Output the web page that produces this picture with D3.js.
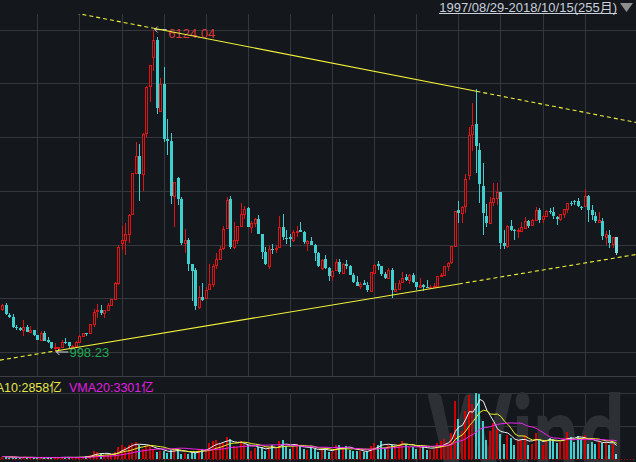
<!DOCTYPE html>
<html><head><meta charset="utf-8">
<script src="https://cdn.jsdelivr.net/npm/d3@7/dist/d3.min.js"></script>
<style>
html,body{margin:0;padding:0;background:#14171c;overflow:hidden}
svg{display:block}
</style></head><body>
<svg id="c" width="636" height="462"></svg>
<script>
// ---- DATA: SSE Composite, monthly (visible window) ----
const months = [
 "2004-03","2004-04","2004-05","2004-06","2004-07","2004-08","2004-09","2004-10","2004-11","2004-12",
 "2005-01","2005-02","2005-03","2005-04","2005-05","2005-06","2005-07","2005-08","2005-09","2005-10","2005-11","2005-12",
 "2006-01","2006-02","2006-03","2006-04","2006-05","2006-06","2006-07","2006-08","2006-09","2006-10","2006-11","2006-12",
 "2007-01","2007-02","2007-03","2007-04","2007-05","2007-06","2007-07","2007-08","2007-09","2007-10","2007-11","2007-12",
 "2008-01","2008-02","2008-03","2008-04","2008-05","2008-06","2008-07","2008-08","2008-09","2008-10","2008-11","2008-12",
 "2009-01","2009-02","2009-03","2009-04","2009-05","2009-06","2009-07","2009-08","2009-09","2009-10","2009-11","2009-12",
 "2010-01","2010-02","2010-03","2010-04","2010-05","2010-06","2010-07","2010-08","2010-09","2010-10","2010-11","2010-12",
 "2011-01","2011-02","2011-03","2011-04","2011-05","2011-06","2011-07","2011-08","2011-09","2011-10","2011-11","2011-12",
 "2012-01","2012-02","2012-03","2012-04","2012-05","2012-06","2012-07","2012-08","2012-09","2012-10","2012-11","2012-12",
 "2013-01","2013-02","2013-03","2013-04","2013-05","2013-06","2013-07","2013-08","2013-09","2013-10","2013-11","2013-12",
 "2014-01","2014-02","2014-03","2014-04","2014-05","2014-06","2014-07","2014-08","2014-09","2014-10","2014-11","2014-12",
 "2015-01","2015-02","2015-03","2015-04","2015-05","2015-06","2015-07","2015-08","2015-09","2015-10","2015-11","2015-12",
 "2016-01","2016-02","2016-03","2016-04","2016-05","2016-06","2016-07","2016-08","2016-09","2016-10","2016-11","2016-12",
 "2017-01","2017-02","2017-03","2017-04","2017-05","2017-06","2017-07","2017-08","2017-09","2017-10","2017-11","2017-12",
 "2018-01","2018-02","2018-03","2018-04","2018-05","2018-06","2018-07","2018-08","2018-09","2018-10"
];
const open = [
 1676,1745,1590,1555,1395,1387,1340,1398,1322,1340,
 1261,1191,1307,1182,1160,1058,1080,1083,1163,1155,1092,1100,
 1163,1259,1299,1299,1443,1644,1673,1612,1659,1752,1837,2100,
 2728,2786,2881,3196,3846,4110,3820,4474,5223,5690,5958,4830,
 5265,4382,4349,3471,3756,3434,2732,2772,2398,2296,1716,1868,
 1849,1992,2083,2376,2478,2645,2971,3426,2670,2782,3000,3199,
 3289,2986,3055,3114,2866,2590,2373,2640,2641,2660,2989,2818,
 2825,2774,2908,2933,2904,2738,2767,2700,2569,2340,2471,2330,
 2212,2294,2434,2255,2395,2371,2221,2104,2045,2092,2069,1973,
 2261,2391,2367,2236,2174,2298,1975,1994,2110,2186,2139,2215,
 2112,2029,2057,2034,2023,2037,2049,2203,2219,2368,2426,2690,
 3258,3212,3313,3810,4464,4617,4214,3630,3157,3052,3386,3443,
 3536,2730,2688,3000,2939,2916,2928,2973,3083,3009,3103,3250,
 3105,3160,3246,3227,3144,3117,3193,3274,3363,3403,3393,3308,
 3314,3479,3262,3163,3071,3084,2830,2860,2716,2819
];
const high = [
 1760,1783,1620,1600,1425,1400,1503,1432,1405,1355,
 1273,1328,1330,1230,1165,1146,1085,1186,1223,1156,1110,1178,
 1263,1306,1301,1444,1677,1757,1746,1660,1772,1841,2103,2698,
 2994,3049,3197,3841,4335,4312,4472,5219,5558,6124.04,5999,5352,
 5523,4695,4473,3700,3786,3455,2952,2810,2398,2333,2040,2100,
 2038,2402,2404,2579,2689,2994,3454,3478,3068,3000,3361,3314,
 3306,3076,3127,3181,2879,2660,2676,2707,2703,3160,3186,2939,
 2870,2941,3001,3067,2920,2774,2827,2710,2581,2476,2536,2346,
 2302,2478,2478,2412,2453,2386,2250,2200,2112,2137,2109,2276,
 2398,2445,2368,2274,2335,2334,2093,2149,2270,2242,2240,2260,
 2113,2177,2074,2146,2061,2087,2204,2248,2372,2426,2686,3239,
 3406,3324,3835,4573,4958,5178.19,4318,4006,3358,3457,3678,3684,
 3539,2934,3018,3098,2953,2968,3071,3141,3103,3114,3301,3288,
 3175,3261,3283,3295,3158,3194,3277,3374,3391,3418,3450,3316,
 3587,3495,3333,3220,3220,3129,2915,2940,2828,2830
];
const low = [
 1642,1585,1541,1384,1342,1328,1260,1318,1301,1259,
 1189,1187,1175,1134,1043,998.23,1004,1075,1129,1067,1074,1098,
 1156,1241,1259,1292,1403,1541,1593,1541,1651,1744,1827,2069,
 2617,2541,2723,3171,3840,3404,3563,4409,4976,5462,4778,4812,
 4330,4123,3357,2990,3333,2693,2566,2284,1802,1664,1679,1814,
 1844,1990,2038,2325,2476,2626,2949,2639,2640,2713,2991,3111,
 2986,2890,2983,2869,2481,2382,2319,2558,2573,2650,2785,2721,
 2661,2753,2821,2910,2710,2610,2698,2437,2344,2307,2318,2134,
 2132,2286,2242,2242,2323,2223,2100,2040,1999,2058,1959,1949,
 2243,2304,2205,2161,2173,1849,1951,1991,2087,2130,2080,2087,
 1985,2026,1974,2010,1992,2010,2039,2183,2212,2285,2389,2687,
 3050,3050,3205,3734,4198,3848,3373,2850,2983,3040,3323,3327,
 2638,2638,2650,2927,2781,2807,2923,2951,2969,3008,3096,3044,
 3044,3141,3193,3111,3016,3088,3132,3210,3317,3337,3307,3254,
 3305,3062,3091,3041,3041,2782,2691,2653,2644,2536
];
const close = [
 1742,1595,1555,1399,1386,1342,1396,1320,1340,1266,
 1191,1306,1181,1159,1060,1080,1083,1162,1155,1092,1099,1161,
 1258,1299,1298,1440,1641,1672,1612,1658,1752,1837,2099,2675,
 2786,2881,3183,3841,4109,3820,4471,5218,5552,5954,4871,5261,
 4383,4348,3472,3693,3433,2736,2775,2397,2293,1729,1871,1821,
 1991,2082,2373,2477,2633,2959,3412,2667,2779,2996,3195,3277,
 2989,3051,3110,2870,2592,2398,2638,2638,2656,2979,2820,2808,
 2791,2906,2928,2911,2743,2762,2701,2568,2359,2468,2333,2199,
 2292,2428,2262,2396,2373,2225,2103,2047,2086,2069,1980,2269,
 2385,2365,2237,2177,2301,1979,1994,2098,2175,2141,2220,2116,
 2033,2056,2033,2026,2039,2048,2202,2217,2364,2420,2683,3235,
 3210,3310,3748,4441,4612,4277,3664,3206,3053,3383,3445,3539,
 2738,2688,3004,2938,2917,2930,2979,3085,3005,3100,3250,3104,
 3159,3242,3223,3155,3117,3192,3273,3361,3349,3393,3317,3307,
 3481,3259,3169,3082,3095,2847,2876,2725,2821,2568
];
// monthly volume, 亿股
const volume = [
 450,420,250,270,200,200,380,250,280,190,
 180,320,260,280,230,300,250,380,360,240,230,290,
 420,450,500,760,1450,1300,900,650,800,750,1350,2100,
 2500,2100,2600,3000,3100,2600,1900,2400,2300,1800,1300,1500,
 1400,1100,1600,1700,1900,1000,1100,900,1300,1300,1800,1900,
 1800,2900,3300,3400,2700,3000,4000,3600,2300,2200,3200,2700,
 2500,1500,2000,2100,2100,1500,2100,2600,1800,3300,3500,2300,
 1900,2200,2800,2300,1800,1600,2100,1800,1300,1700,2000,1300,
 1300,2500,2500,1900,2300,1600,1500,1500,1400,1200,1400,2400,
 3000,2600,3200,2000,2600,2600,2300,2700,3300,2600,2200,2100,
 1800,2300,2400,1700,1700,1900,2900,3200,3600,3000,4800,10500,
 7200,5000,8800,11600,10000,12000,11800,7000,3500,5000,6500,5500,
 4500,2800,4300,3900,2500,3500,3500,4300,2500,2700,4700,3400,
 2600,3300,3900,3600,3000,3100,3900,4900,4000,3100,4200,3740,
 4300,2700,3100,2800,3300,3000,3100,2600,2780,900
];
// trend-line anchors (month, price)
const upperTrend = [["2007-10", 6143], ["2015-06", 5142]];
const lowerTrend = [["2005-06", 1015], ["2015-01", 2080]];
const maPeriods = [5, 10, 20];
const rangeLabel = "1997/08/29-2018/10/15(255月)";
const unit = "亿";

// ---- DRAW ----
const W = 636, H = 462;
const n = months.length;
const FONT = "'Liberation Sans', Arial, 'Noto Sans CJK SC', sans-serif";
const RED = "#dc1616", CYAN = "#3fcfcf", BG = "#14171c", GRID = "#34373c";

const x = d3.scaleLinear().domain([0, n - 1]).range([2.8, 2.8 + (n - 1) * 3.508]);
const lo = d3.min(low), hi = d3.max(high);
const y = d3.scaleLinear().domain([lo, hi]).range([352, 29.5]);
const vmax = d3.max(volume);
const yv = d3.scaleLinear().domain([0, vmax]).range([459, 393]);

const svg = d3.select("#c");
svg.append("rect").attr("width", W).attr("height", H).attr("fill", BG);
const defs = svg.append("defs");
defs.append("clipPath").attr("id", "cp").append("rect").attr("x", 0).attr("y", 14).attr("width", W).attr("height", 362);
defs.append("clipPath").attr("id", "cv").append("rect").attr("x", 0).attr("y", 377).attr("width", W).attr("height", 85);

// grid
const grid = svg.append("g").attr("stroke", GRID).attr("stroke-width", 1).attr("shape-rendering", "crispEdges");
d3.range(7).map(k => lo + k * (hi - lo) / 6).forEach(v => {
  const gy = Math.round(y(v)) + 0.5;
  grid.append("line").attr("x1", 0).attr("x2", W).attr("y1", gy).attr("y2", gy);
});
months.forEach((m, i) => {
  if (m.endsWith("-01")) {
    const gx = Math.floor(x(i)) + 0.5;
    grid.append("line").attr("x1", gx).attr("x2", gx).attr("y1", 14).attr("y2", 376);
    grid.append("line").attr("x1", gx).attr("x2", gx).attr("y1", 393).attr("y2", 462);
  }
});
[vmax, vmax / 2].forEach(v => {
  const gy = Math.round(yv(v)) + 0.5;
  grid.append("line").attr("x1", 0).attr("x2", W).attr("y1", gy).attr("y2", gy);
});
svg.append("line").attr("x1", 0).attr("x2", W).attr("y1", 376.5).attr("y2", 376.5)
  .attr("stroke", "#3b3e43").attr("shape-rendering", "crispEdges");

// candles
const gc = svg.append("g").attr("clip-path", "url(#cp)").attr("shape-rendering", "crispEdges");
const idx = d3.range(n);
idx.forEach(i => {
  const cx = Math.floor(x(i));
  const up = close[i] >= open[i];
  const last = i === n - 1;
  const col = up ? RED : (last ? "#7fdede" : CYAN);
  const top = Math.round(y(Math.max(open[i], close[i])));
  const bot = Math.round(y(Math.min(open[i], close[i])));
  const yh = Math.round(y(high[i])), yl = Math.round(y(low[i]));
  if (up) {
    if (yh < top) gc.append("line").attr("x1", cx + 0.5).attr("x2", cx + 0.5).attr("y1", yh).attr("y2", top).attr("stroke", col);
    if (yl > bot) gc.append("line").attr("x1", cx + 0.5).attr("x2", cx + 0.5).attr("y1", bot).attr("y2", yl).attr("stroke", col);
    gc.append("rect").attr("x", cx - 0.5).attr("y", top + 0.5).attr("width", 2).attr("height", Math.max(bot - top, 1))
      .attr("fill", BG).attr("stroke", col);
  } else {
    gc.append("line").attr("x1", cx + 0.5).attr("x2", cx + 0.5).attr("y1", yh).attr("y2", yl).attr("stroke", col);
    gc.append("rect").attr("x", cx - 1).attr("y", top).attr("width", 3).attr("height", Math.max(bot - top, 1)).attr("fill", col);
  }
});

// hi / lo labels
const fmt2 = d3.format(".2f");
const iHi = high.indexOf(hi), iLo = low.indexOf(lo);
const lab = svg.append("g");
lab.append("text").attr("x", x(iHi) + 14.5).attr("y", y(hi) + 8.5).attr("fill", "#d83a3a")
  .attr("font-family", FONT).attr("font-size", 13).text(fmt2(hi));
lab.append("path").attr("d", `M${x(iHi)+1},${y(hi)} H${x(iHi)+13} M${x(iHi)+4},${y(hi)-3} L${x(iHi)+1},${y(hi)} L${x(iHi)+4},${y(hi)+3}`)
  .attr("stroke", "#b8b8b8").attr("fill", "none");
lab.append("text").attr("x", x(iLo) + 14).attr("y", y(lo) + 4.5).attr("fill", "#1fae52")
  .attr("font-family", FONT).attr("font-size", 13).text(fmt2(lo));
lab.append("path").attr("d", `M${x(iLo)+1},${y(lo)} H${x(iLo)+13} M${x(iLo)+4},${y(lo)-3} L${x(iLo)+1},${y(lo)} L${x(iLo)+4},${y(lo)+3}`)
  .attr("stroke", "#d8d8d8").attr("fill", "none");

// trend lines
function trend(anchors) {
  const [a, b] = anchors.map(([m, p]) => [x(months.indexOf(m)), y(p)]);
  const k = (b[1] - a[1]) / (b[0] - a[0]);
  const at = X => [X, a[1] + k * (X - a[0])];
  const g = svg.append("g").attr("clip-path", "url(#cp)").attr("stroke", "#f2f23a").attr("fill", "none").attr("stroke-width", 1.1);
  g.append("line").attr("x1", at(0)[0]).attr("y1", at(0)[1]).attr("x2", a[0]).attr("y2", a[1]).attr("stroke-dasharray", "4,3");
  g.append("line").attr("x1", a[0]).attr("y1", a[1]).attr("x2", b[0]).attr("y2", b[1]);
  g.append("line").attr("x1", b[0]).attr("y1", b[1]).attr("x2", at(W)[0]).attr("y2", at(W)[1]).attr("stroke-dasharray", "4,3");
}
trend(upperTrend);
trend(lowerTrend);

// volume panel
const gv = svg.append("g").attr("clip-path", "url(#cv)");
gv.append("text").attr("x", 427).attr("y", 470).attr("font-family", "Lato, 'Open Sans', sans-serif")
  .attr("font-weight", 900).attr("font-size", 104).attr("fill", "#2d3035")
  .attr("textLength", 198).attr("lengthAdjust", "spacingAndGlyphs").text("Wind");
gv.append("line").attr("x1", 0).attr("x2", W).attr("y1", 459.5).attr("y2", 459.5)
  .attr("stroke", "#c00000").attr("stroke-dasharray", "1,2");
const gb = gv.append("g").attr("shape-rendering", "crispEdges");
idx.forEach(i => {
  const cx = Math.floor(x(i));
  const up = close[i] >= open[i];
  const top = Math.round(yv(volume[i]));
  gb.append("rect").attr("x", cx - 1).attr("y", top).attr("width", 2).attr("height", Math.max(459 - top, 1))
    .attr("fill", up ? "#d00000" : (i === n - 1 ? "#7fdede" : CYAN));
});
const maColors = ["#f2f2f2", "#eeee2a", "#ee22ee"];
const mas = maPeriods.map(p => volume.map((v, i) => d3.mean(volume.slice(Math.max(0, i - p + 1), i + 1))));
const line = d3.line().x((d, i) => x(i)).y(d => yv(d));
mas.forEach((ma, k) => {
  gv.append("path").attr("d", line(ma)).attr("fill", "none").attr("stroke", maColors[k]).attr("stroke-width", 1);
});
const fmt0 = d3.format("d");
svg.append("text").attr("x", -23).attr("y", 391.5).attr("font-family", FONT).attr("font-size", 12.5)
  .attr("fill", "#e6e64a").text(`VMA${maPeriods[1]}:${fmt0(Math.round(mas[1][n - 1]))}${unit}`);
svg.append("text").attr("x", 69).attr("y", 391.5).attr("font-family", FONT).attr("font-size", 12.5)
  .attr("fill", "#e020e0").text(`VMA${maPeriods[2]}:${fmt0(Math.round(mas[2][n - 1]))}${unit}`);

// top-right range label
const rt = svg.append("text").attr("x", 617).attr("y", 12).attr("text-anchor", "end")
  .attr("font-family", FONT).attr("font-size", 13).attr("fill", "#c9d0dc").text(rangeLabel);
const tl = rt.node().getComputedTextLength();
svg.append("line").attr("x1", 617 - tl).attr("x2", 617).attr("y1", 13.5).attr("y2", 13.5)
  .attr("stroke", "#c9d0dc").attr("shape-rendering", "crispEdges");
svg.append("path").attr("d", "M620,3 L633,3 L626.5,12 Z").attr("fill", "#8e8e8e");
</script>
</body></html>
